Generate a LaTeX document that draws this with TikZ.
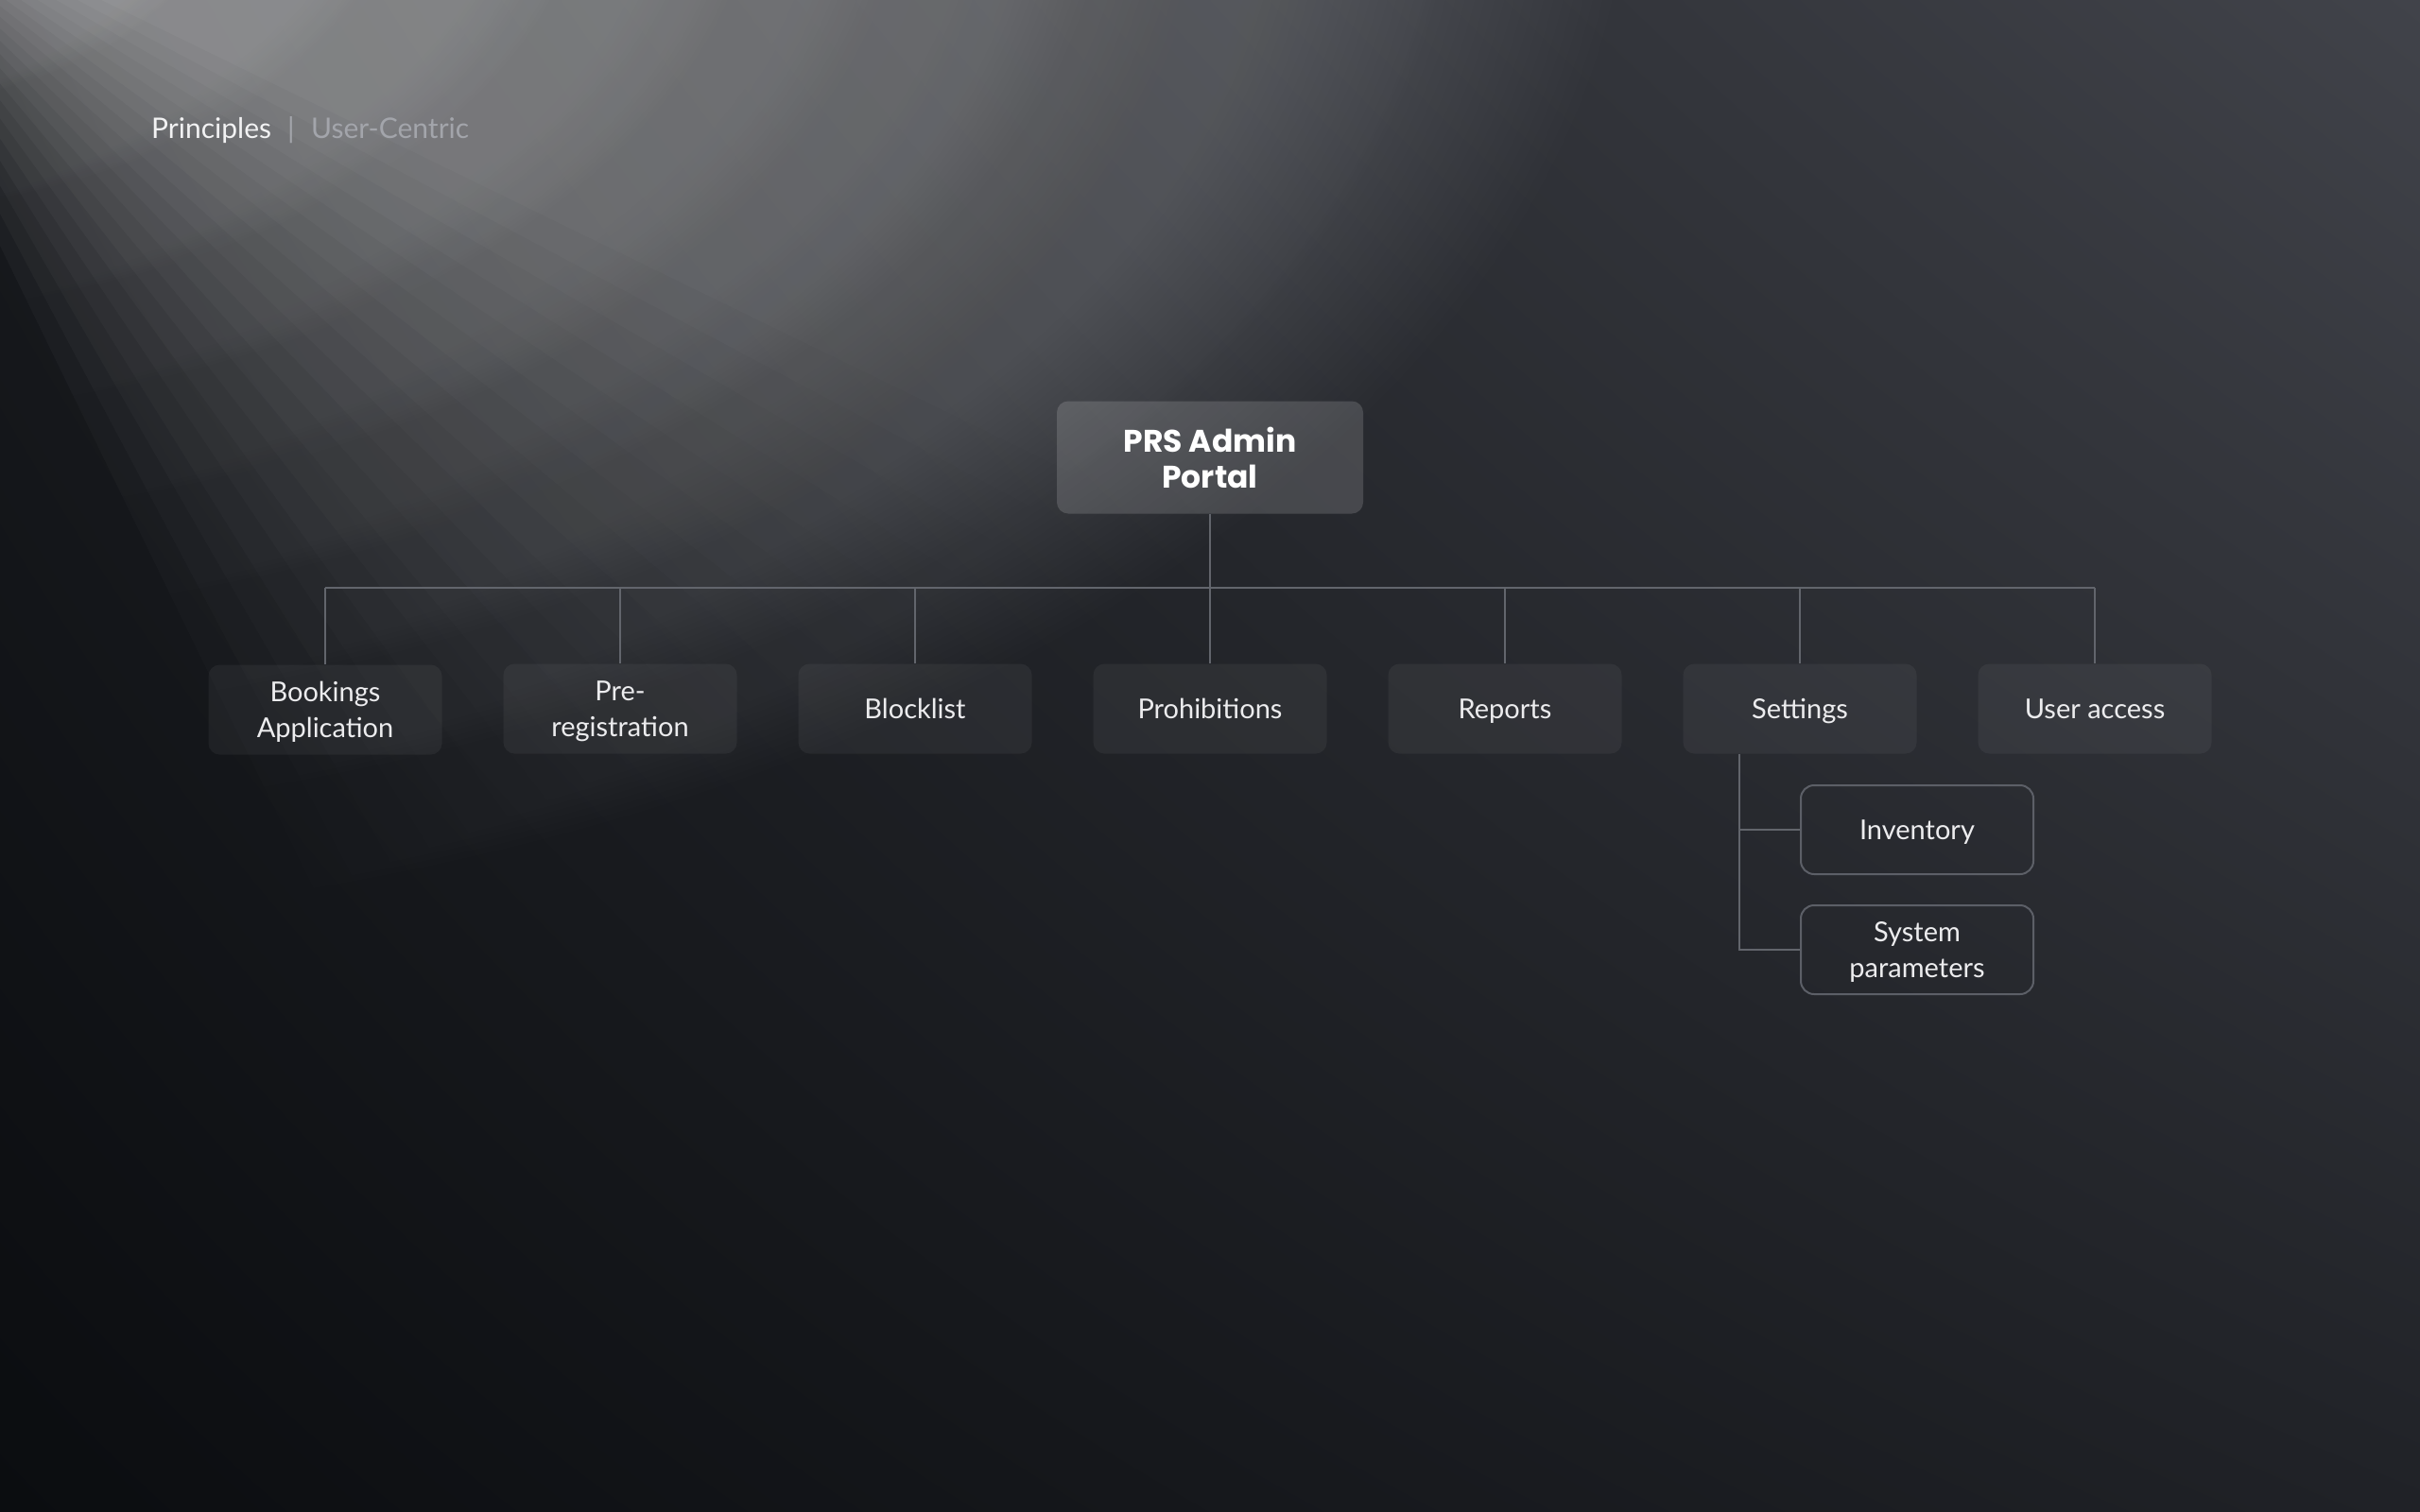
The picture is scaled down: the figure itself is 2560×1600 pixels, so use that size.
\documentclass[tikz,border=0pt]{standalone}
\usepackage{fontspec}
\setmainfont{Lato}
\newfontfamily\rootfont{Poppins}
\usetikzlibrary{calc,shadings,fadings}
\definecolor{bgul}{HTML}{181A1E}
\definecolor{bgur}{HTML}{41434A}
\definecolor{bgll}{HTML}{0B0D10}
\definecolor{bglr}{HTML}{202227}
\definecolor{linec}{HTML}{62656C}
\definecolor{txt}{HTML}{ECECEE}
\definecolor{labeltxt}{HTML}{F2F2F3}
\definecolor{subtxt}{HTML}{A3A5AB}
\definecolor{subborder}{HTML}{5C5F67}
\tikzfading[name=beamfade, inner color=transparent!0, outer color=transparent!100]
\begin{document}
\begin{tikzpicture}[x=1pt,y=-1pt,
  conn/.style={draw=linec, line width=2pt},
  childbox/.style={rectangle, rounded corners=12pt, fill=white, fill opacity=0.05, text opacity=1, text=txt,
    minimum width=247pt, minimum height=95pt, inner sep=0pt, align=center, text depth=0pt,
    font=\fontsize{29}{38}\selectfont},
  subbox/.style={rectangle, rounded corners=14pt, draw=subborder, line width=2pt, text=txt,
    minimum width=246pt, minimum height=94pt, inner sep=0pt, align=center, text depth=0pt,
    font=\fontsize{29}{38}\selectfont},
  rootbox/.style={rectangle, rounded corners=12pt, fill=white, fill opacity=0.15, text opacity=1, text=white,
    minimum width=324pt, minimum height=119pt, inner sep=0pt, align=center, text depth=0pt,
    font=\rootfont\bfseries\fontsize{33}{38}\selectfont},
  toplabel/.style={anchor=base west, inner sep=0pt, font=\fontsize{30}{36}\selectfont}
]
\useasboundingbox (0,0) rectangle (2560,1600);
% background
\shade[upper left=bgul, upper right=bgur, lower left=bgll, lower right=bglr] (0,0) rectangle (2560,1600);
% light beam: elliptical falloff from a point beyond the top-left corner,
% fading out towards its lower edge (layers with different cut angles and sizes)
\foreach \k [evaluate=\k as \th using 24+2*\k, evaluate=\k as \sc using 1+0.006*\k] in {1,...,20}{
  \begin{scope}
    \clip (-200,-150) -- +(-30:5000) -- +(\th:5000) -- cycle;
    \begin{scope}[shift={(-200,-150)}, scale=10]
      \fill[white, path fading=beamfade, fill opacity=0.046] (0,0) ellipse [x radius=195pt*\sc, y radius=115pt*\sc];
    \end{scope}
  \end{scope}
}

% top label
\node[toplabel, text=labeltxt] (pl) at (160,147) {Principles};
\node[toplabel, text=subtxt, anchor=base] (bar) at (308,147) {|};
\node[toplabel, text=subtxt] (uc) at (329,147) {User-Centric};

% nodes
\node[rootbox] (root) at (1280,484) {PRS Admin\\Portal};
\node[childbox] (bk) at (344,751) {Bookings\\Application};
\node[childbox] (pr) at (656,750) {Pre-\\registration};
\node[childbox] (bl) at (968,750) {Blocklist};
\node[childbox] (ph) at (1280,750) {Prohibitions};
\node[childbox] (rp) at (1592,750) {Reports};
\node[childbox] (st) at (1904,750) {Settings};
\node[childbox] (ua) at (2216,750) {User access};
\node[subbox] (inv) at (2028,878) {Inventory};
\node[subbox] (sys) at (2028,1005) {System\\parameters};

% connectors
\coordinate (bus) at (0,622);
\coordinate (spine) at (1840,0);
\draw[conn] (root.south) -- (root.south |- bus);
\draw[conn] (bk.north |- bus) -- (ua.north |- bus);
\foreach \n in {bk,pr,bl,ph,rp,st,ua}{
  \draw[conn] (\n.north |- bus) -- (\n.north);
}
\draw[conn] (spine |- st.south) -- (spine |- sys.west) -- (sys.west);
\draw[conn] (spine |- inv.west) -- (inv.west);
\end{tikzpicture}
\end{document}
